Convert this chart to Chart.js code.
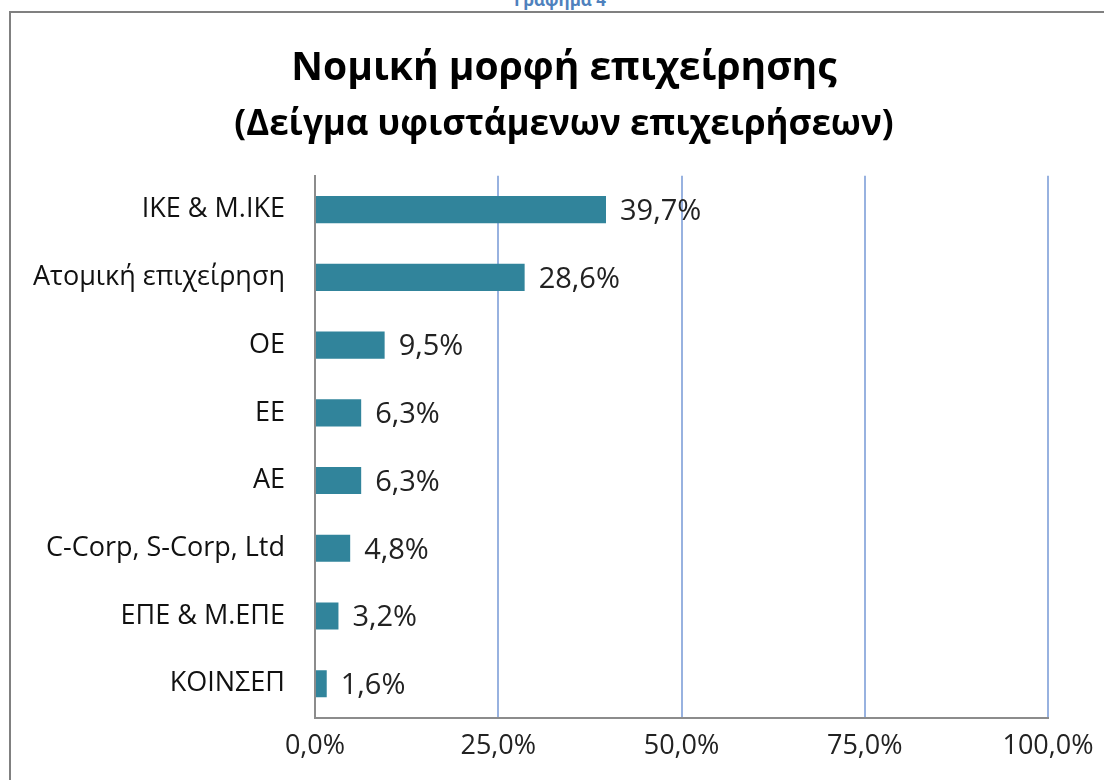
<!DOCTYPE html>
<html>
<head>
<meta charset="utf-8">
<script src="https://cdn.jsdelivr.net/npm/chart.js@4.4.0/dist/chart.umd.min.js"></script>
<style>
  body { margin: 0; background: #fff; overflow: hidden; }
  #wrap { position: relative; width: 1104px; height: 780px; }
  #frame { position: absolute; left: 9px; top: 11px; width: 1200px; height: 900px; border: 2px solid #808080; box-sizing: border-box; }
  #caption { position: absolute; left: 0; width: 1120px; top: -12px; text-align: center; color: #4f81bd; font: bold 17px "Open Sans", sans-serif; }
  canvas { position: absolute; left: 0; top: 0; }
</style>
</head>
<body>
<div id="wrap">
  <div id="frame"></div>
  <div id="caption">Γράφημα 4</div>
  <canvas id="myChart" width="1104" height="780"></canvas>
</div>
<script>
const categories = ['ΙΚΕ & Μ.ΙΚΕ', 'Ατομική επιχείρηση', 'ΟΕ', 'ΕΕ', 'ΑΕ', 'C-Corp, S-Corp, Ltd', 'ΕΠΕ & Μ.ΕΠΕ', 'ΚΟΙΝΣΕΠ']
const shares = [39.7, 28.6, 9.5, 6.3, 6.3, 4.8, 3.2, 1.6]
const xTicks = [0, 25, 50, 75, 100]

const fontFamily = '"Open Sans", sans-serif'
const fmt = v => v.toFixed(1).replace('.', ',') + '%'

// labels at end of each bar
const barLabels = {
  id: 'barLabels',
  afterDatasetsDraw(chart) {
    const ctx = chart.ctx
    const meta = chart.getDatasetMeta(0)
    ctx.save()
    ctx.font = '29px ' + fontFamily
    ctx.fillStyle = '#222'
    ctx.textBaseline = 'middle'
    meta.data.forEach((bar, i) => {
      ctx.fillText(fmt(shares[i]), bar.x + 14, bar.y + 2)
    })
    ctx.restore()
  }
}

// titles sit a bit right of the canvas centre in the original
const shiftTitles = {
  id: 'shiftTitles',
  afterLayout(chart) {
    chart.boxes.forEach(b => {
      if (b.options && b.options.text !== undefined) b.left += 80
    })
  }
}

const config = {
  type: 'bar',
  data: {
    labels: categories,
    datasets: [{
      data: shares,
      backgroundColor: '#31849b',
      categoryPercentage: 1,
      barPercentage: 0.4
    }]
  },
  options: {
    indexAxis: 'y',
    responsive: false,
    animation: false,
    layout: { padding: { left: 0, right: 56, top: 13, bottom: 4 } },
    plugins: {
      legend: { display: false },
      tooltip: { enabled: false },
      title: {
        display: true,
        text: 'Νομική μορφή επιχείρησης',
        color: '#000',
        font: { family: fontFamily, size: 39, weight: 'bold', lineHeight: 1.2 },
        padding: { top: 32, bottom: 2 }
      },
      subtitle: {
        display: true,
        text: '(Δείγμα υφιστάμενων επιχειρήσεων)',
        color: '#000',
        font: { family: fontFamily, size: 35, weight: 'bold', lineHeight: 1.2 },
        padding: { top: 10, bottom: 30 }
      }
    },
    scales: {
      x: {
        min: 0,
        max: 100,
        afterBuildTicks(scale) { scale.ticks = xTicks.map(v => ({ value: v })) },
        afterFit(scale) { scale.paddingLeft = 0; scale.paddingRight = 0 },
        grid: { color: '#98b2e0', lineWidth: 2, drawTicks: false },
        border: { display: true, color: '#8c8c8c', width: 2 },
        ticks: {
          padding: 13,
          color: '#222',
          font: { family: fontFamily, size: 27 },
          callback: v => fmt(v)
        }
      },
      y: {
        afterFit(scale) { scale.width = 315; scale.paddingTop = 0; scale.paddingBottom = 0 },
        grid: { display: false, drawTicks: false },
        border: { display: true, color: '#8c8c8c', width: 2 },
        ticks: {
          padding: 30,
          color: '#111',
          font: { family: fontFamily, size: 27 }
        }
      }
    }
  },
  plugins: [barLabels, shiftTitles]
}

const myChart = new Chart(document.getElementById('myChart'), config)
</script>
</body>
</html>
